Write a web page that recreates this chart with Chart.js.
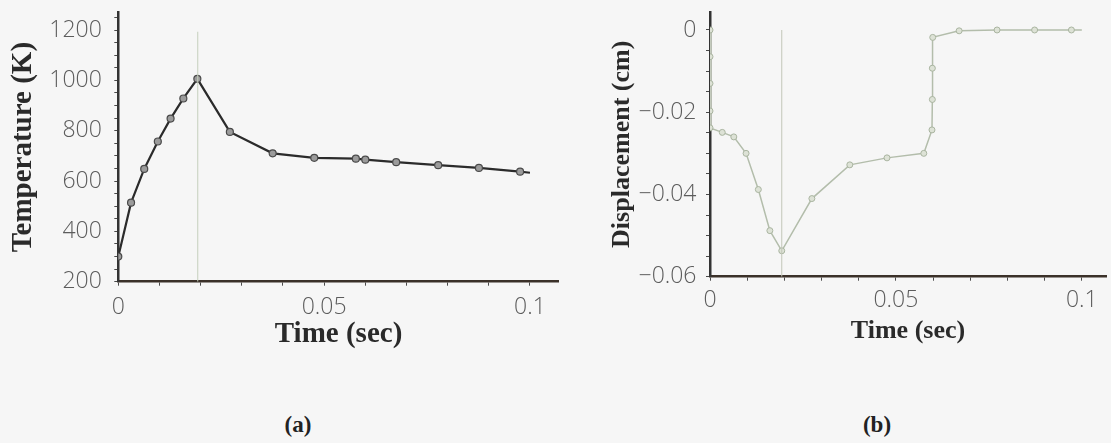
<!DOCTYPE html>
<html>
<head>
<meta charset="utf-8">
<script src="https://cdn.jsdelivr.net/npm/chart.js@4.4.1/dist/chart.umd.min.js"></script>
<style>
  html, body { margin: 0; padding: 0; background: #f6f6f6; }
  #wrap { position: relative; width: 1111px; height: 443px; overflow: hidden; background: #f6f6f6; }
  canvas { position: absolute; top: 0; }
  .cap { position: absolute; top: 412px; width: 80px; text-align: center;
         font: bold 23px "Liberation Serif", serif; color: #222; }
</style>
</head>
<body>
<div id="wrap">
  <canvas id="tempChart" width="570" height="360" style="left:0px"></canvas>
  <canvas id="dispChart" width="551" height="360" style="left:560px"></canvas>
  <div class="cap" style="left:258px">(a)</div>
  <div class="cap" style="left:837px">(b)</div>
</div>
<script>
// ---- data ----
const tempTime = [0, 0.0031, 0.0063, 0.0096, 0.0127, 0.0158, 0.0192, 0.0271, 0.0375, 0.0476, 0.0577, 0.0600, 0.0675, 0.0777, 0.0876, 0.0976, 0.1];
const tempValues = [300, 514, 648, 757, 848, 928, 1006, 795, 710, 692, 689, 685, 675, 663, 652, 637, 633];

const dispTime = [0, 0, 0, 0, 0, 0.0033, 0.0064, 0.0097, 0.013, 0.0161, 0.0193, 0.0274, 0.0376, 0.0476, 0.0575, 0.0597, 0.0598, 0.0598, 0.0599, 0.067, 0.0772, 0.0873, 0.0972, 0.1];
const dispValues = [0, -0.0065, -0.013, -0.0197, -0.0238, -0.0249, -0.026, -0.030, -0.0388, -0.0488, -0.0537, -0.041, -0.0328, -0.0311, -0.030, -0.0243, -0.0169, -0.0093, -0.0018, -0.0002, 0, 0, 0, 0];

const markerTime = 0.0193;          // vertical line in both plots
const tempMarkerRange = [200, 1193];
const dispMarkerRange = [-0.06, 0];

const timeTickLabels = [0, 0.05, 0.1];
const tempTickLabels = [200, 400, 600, 800, 1000, 1200];
const dispTickLabels = [-0.06, -0.04, -0.02, 0];

// ---- helpers ----
const toPts = (xs, ys) => xs.map((x, i) => ({ x: x, y: ys[i] }));
const isMajor = (v, list) => list.some(m => Math.abs(m - v) < 1e-9);

// major + minor tick marks, labels only on the majors
function minorTicks(scale, step) {
  const out = [];
  const start = Math.ceil(scale.min / step - 1e-9);
  const end = Math.floor(scale.max / step + 1e-9);
  for (let i = start; i <= end; i++) {
    out.push({ value: Math.round(i * step * 1e6) / 1e6 });
  }
  scale.ticks = out;
}

// no extra room for overhanging labels: chart area is set by layout padding only
function noOverhang(s) {
  s.paddingTop = 0; s.paddingBottom = 0; s.paddingLeft = 0; s.paddingRight = 0;
}

const tickFont = { family: '"Open Sans", sans-serif', size: 23, weight: 300 };
const tickColor = '#5c5c5c';

function xAxis(opts) {
  return {
    type: 'linear', min: 0, max: opts.max,
    afterBuildTicks: s => minorTicks(s, 0.01),
    afterFit: s => { s.height = opts.height; noOverhang(s); },
    grid: { drawOnChartArea: false, drawTicks: true, tickLength: 4, color: '#4a4a4a', tickWidth: 1 },
    border: { display: true, color: '#3b3129', width: 2.5 },
    ticks: {
      autoSkip: false, maxRotation: 0, padding: opts.tickPad,
      color: tickColor, font: tickFont,
      callback: v => isMajor(v, timeTickLabels) ? String(+v.toFixed(3)) : ''
    },
    title: {
      display: true, text: 'Time (sec)', color: '#2a2a2a',
      font: { family: '"Liberation Serif", serif', size: opts.titleSize, weight: 'bold', lineHeight: 1 },
      padding: { top: 0, bottom: opts.titlePad }
    }
  };
}

function yAxis(opts) {
  return {
    type: 'linear', min: opts.min, max: opts.max,
    afterBuildTicks: s => minorTicks(s, opts.step),
    afterFit: s => { s.width = opts.width; noOverhang(s); },
    grid: { drawOnChartArea: false, drawTicks: true, tickLength: 4, color: '#4a4a4a', tickWidth: 1 },
    border: { display: true, color: '#333', width: 2.5 },
    ticks: {
      autoSkip: false, padding: opts.tickPad,
      color: tickColor, font: tickFont,
      callback: v => isMajor(v, opts.majors) ? opts.fmt(v) : ''
    },
    title: {
      display: true, text: opts.title, color: '#2a2a2a',
      font: { family: '"Liberation Serif", serif', size: opts.titleSize, weight: 'bold', lineHeight: 1 },
      padding: { top: opts.titlePad, bottom: 0 }
    }
  };
}

const lastNoPoint = r => ctx => ctx.dataIndex === ctx.dataset.data.length - 1 ? 0 : r;

// ---- (a) temperature ----
new Chart(document.getElementById('tempChart'), {
  type: 'scatter',
  data: {
    datasets: [
      {
        data: [{ x: markerTime, y: tempMarkerRange[0] }, { x: markerTime, y: tempMarkerRange[1] }],
        showLine: true, borderColor: '#c5cfbd', borderWidth: 1, pointRadius: 0
      },
      {
        data: toPts(tempTime, tempValues),
        showLine: true, borderColor: '#2b2b2b', borderWidth: 2.2,
        pointRadius: lastNoPoint(3.5), pointBackgroundColor: '#9b9b9b',
        pointBorderColor: '#4a4a4a', pointBorderWidth: 1.2
      }
    ]
  },
  options: {
    responsive: false, animation: false,
    layout: { padding: { left: 0, right: 11.2, top: 12.4, bottom: 0 } },
    plugins: { legend: { display: false }, tooltip: { enabled: false } },
    scales: {
      x: xAxis({ max: 0.107, height: 78.3, tickPad: 8, titleSize: 29, titlePad: 10.5 }),
      y: yAxis({
        min: 200, max: 1270, step: 50, majors: tempTickLabels, width: 118.3, tickPad: 12.5,
        fmt: v => String(v), title: 'Temperature (K)', titleSize: 29, titlePad: 9.5
      })
    }
  }
});

// ---- (b) displacement ----
new Chart(document.getElementById('dispChart'), {
  type: 'scatter',
  data: {
    datasets: [
      {
        data: [{ x: markerTime, y: dispMarkerRange[0] }, { x: markerTime, y: dispMarkerRange[1] }],
        showLine: true, borderColor: '#c2c6b9', borderWidth: 1, pointRadius: 0
      },
      {
        data: toPts(dispTime, dispValues),
        showLine: true, borderColor: '#b3bdab', borderWidth: 1.5,
        segment: {
          borderWidth: c => (c.p0.parsed.x === 0 && c.p1.parsed.x === 0) ? 3.5 : 1.5,
          borderColor: c => (c.p0.parsed.x === 0 && c.p1.parsed.x === 0) ? '#c4cbbd' : '#b3bdab'
        },
        pointRadius: lastNoPoint(3), pointBackgroundColor: '#dde2d6',
        pointBorderColor: '#a9b4a0', pointBorderWidth: 1
      }
    ]
  },
  options: {
    responsive: false, animation: false,
    layout: { padding: { left: 0, right: 0, top: 11.9, bottom: 0 } },
    plugins: { legend: { display: false }, tooltip: { enabled: false } },
    scales: {
      x: xAxis({ max: 0.1065, height: 83.3, tickPad: 6, titleSize: 26, titlePad: 16 }),
      y: yAxis({
        min: -0.06, max: 0.0044, step: 0.005, majors: dispTickLabels, width: 150, tickPad: 9.5,
        fmt: v => v === 0 ? '0' : '\u2212' + Math.abs(v).toFixed(2),
        title: 'Displacement (cm)', titleSize: 26, titlePad: 49.5
      })
    }
  }
});
</script>
</body>
</html>
